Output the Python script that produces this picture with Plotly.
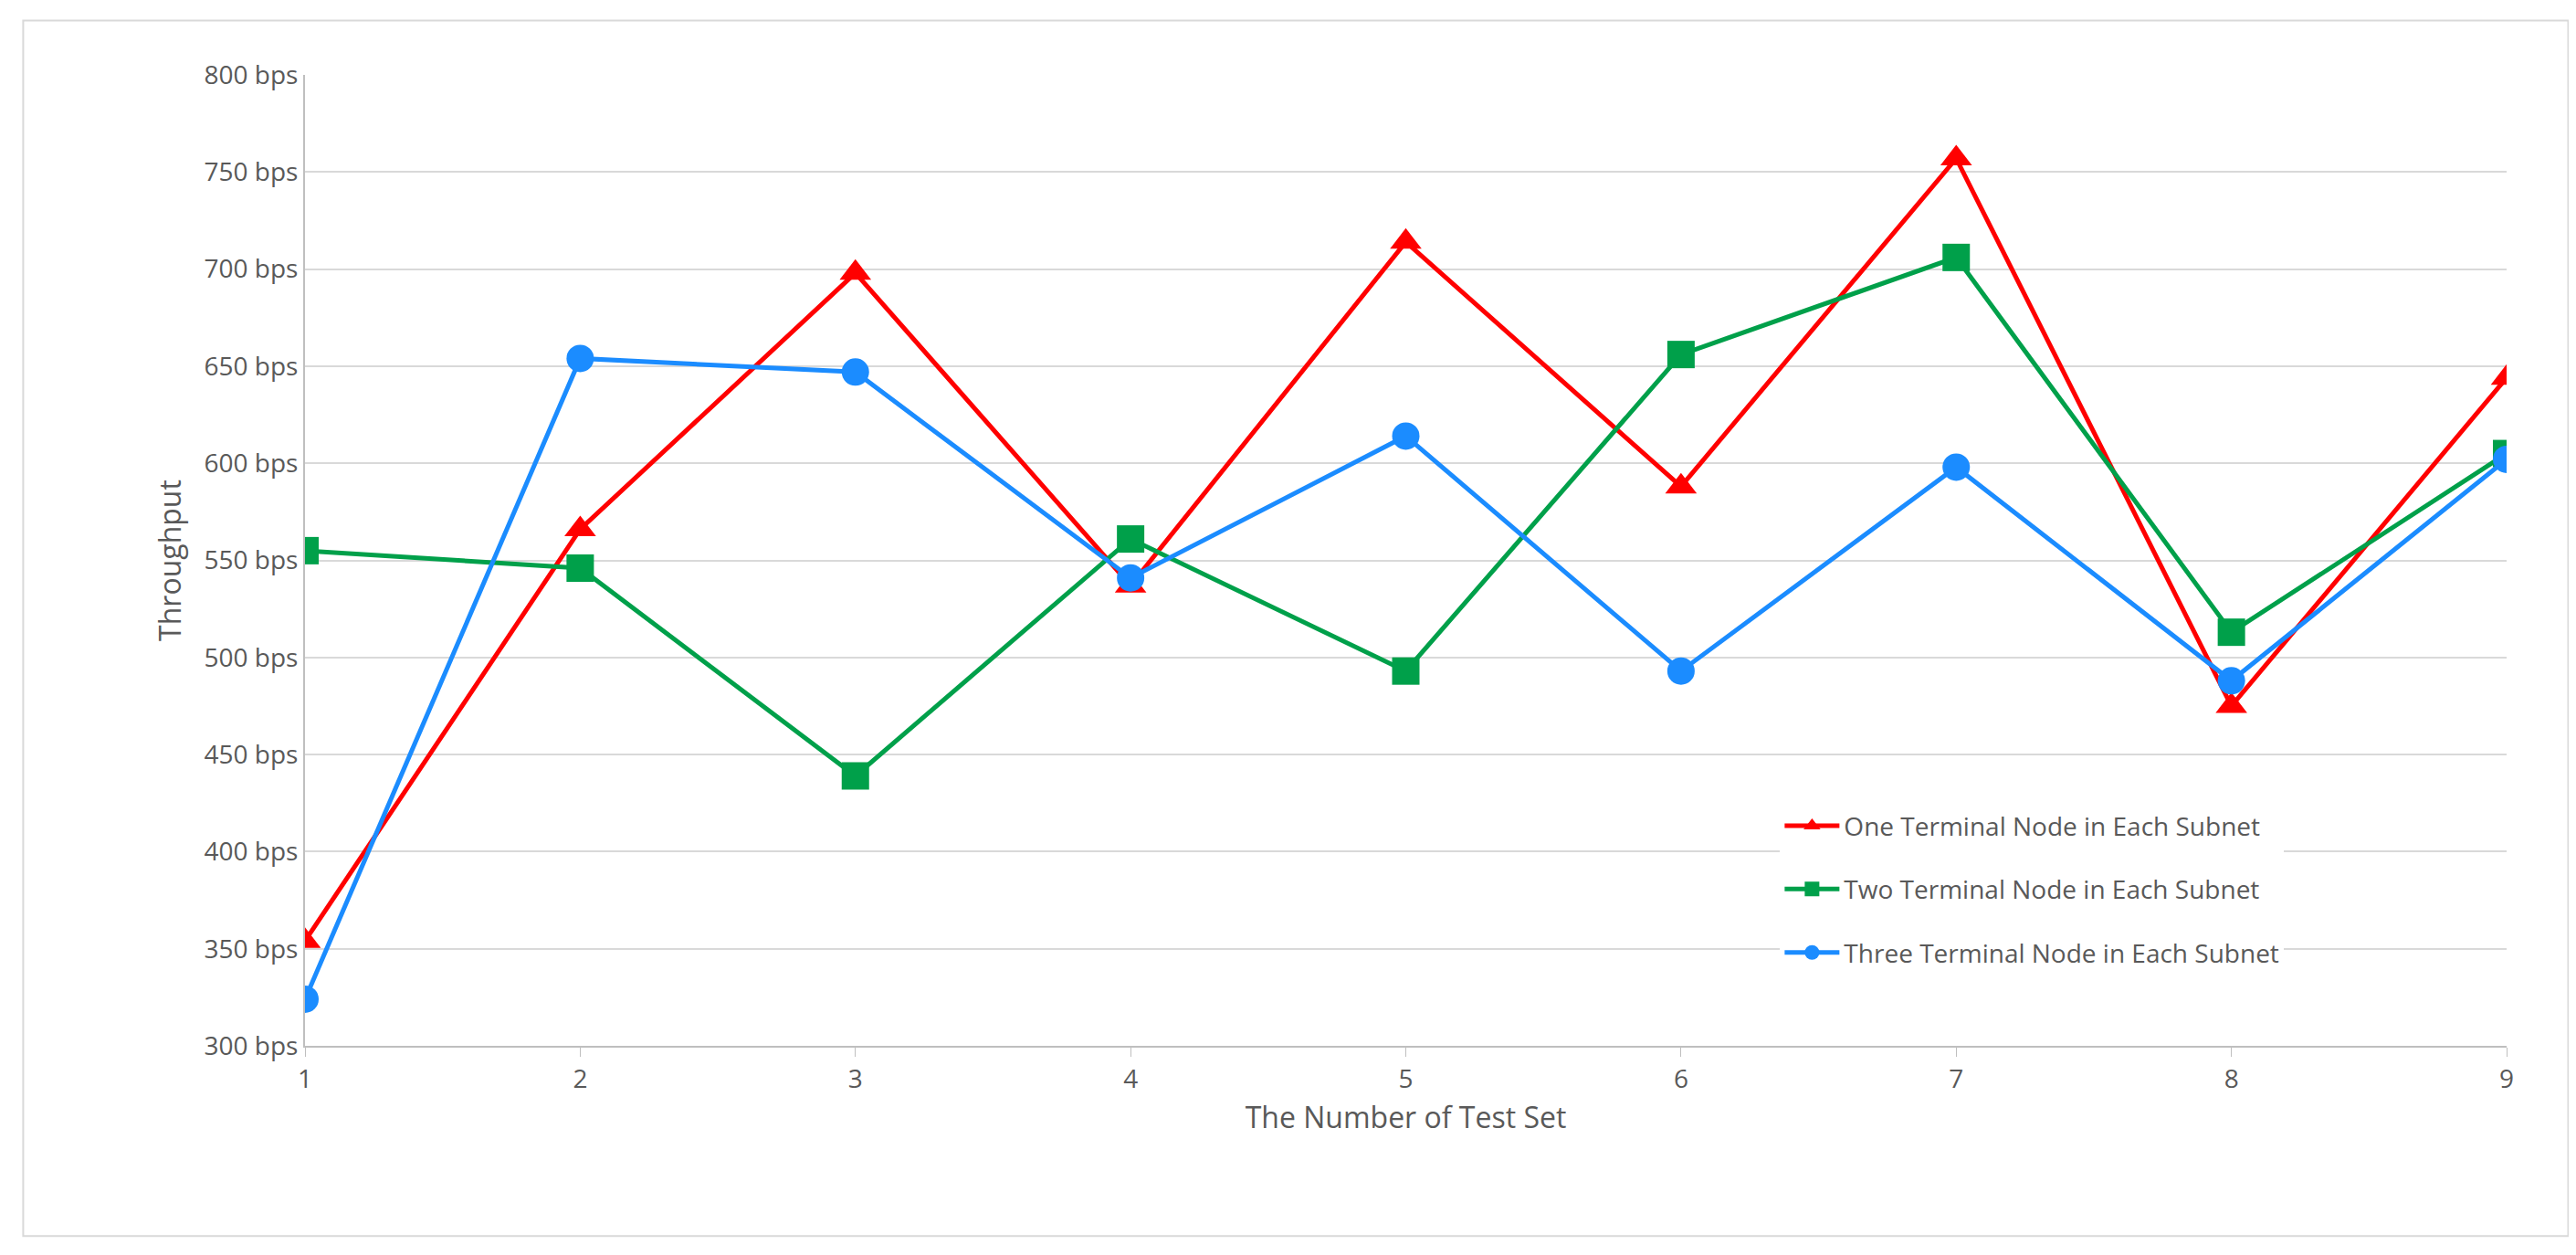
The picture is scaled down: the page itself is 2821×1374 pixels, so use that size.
import plotly.graph_objects as go

test_sets = [1, 2, 3, 4, 5, 6, 7, 8, 9]
one_node = [354, 566, 698, 537, 714, 588, 757, 475, 644]
two_node = [555, 546, 439, 561, 493, 656, 706, 513, 605]
three_node = [324, 654, 647, 541, 614, 493, 598, 488, 602]
y_ticks = [300, 350, 400, 450, 500, 550, 600, 650, 700, 750, 800]

fig = go.Figure()
for i, (name, vals, color, sym) in enumerate([
    ("One Terminal Node in Each Subnet", one_node, "#ff0000", "triangle-up"),
    ("Two Terminal Node in Each Subnet", two_node, "#00a04a", "square"),
    ("Three Terminal Node in Each Subnet", three_node, "#1b8cff", "circle"),
]):
    fig.add_trace(go.Scatter(
        x=test_sets, y=vals, name=name, mode="lines+markers",
        legendgroup=f"g{i}",
        line=dict(color=color, width=5),
        marker=dict(color=color, symbol=sym, size=30),
    ))

fig.update_layout(
    width=2821, height=1374,
    paper_bgcolor="white", plot_bgcolor="white",
    margin=dict(l=326, r=84, t=74, b=237),
    font=dict(family="Open Sans, Liberation Sans, sans-serif", size=28, color="#595959"),
    xaxis=dict(
        range=[1, 9], tickvals=test_sets, showgrid=False,
        showline=True, linecolor="#bfbfbf", linewidth=2,
        ticks="outside", tickcolor="#bfbfbf", ticklen=10,
        title=dict(text="The Number of Test Set", font=dict(size=32)),
    ),
    yaxis=dict(
        range=[300, 800], tickvals=y_ticks,
        ticktext=[f"{v} bps" for v in y_ticks],
        gridcolor="#d9d9d9", gridwidth=2, zeroline=False,
        showline=True, linecolor="#bfbfbf", linewidth=2,
        title=dict(text="Throughput", font=dict(size=32)),
    ),
    legend=dict(
        x=0.67, y=0.25, xanchor="left", yanchor="top",
        bgcolor="white", font=dict(size=28), itemwidth=60,
        traceorder="grouped", tracegroupgap=30,
    ),
    shapes=[dict(
        type="rect", xref="paper", yref="paper",
        x0=-0.128, x1=1.028, y0=-0.196, y1=1.056,
        line=dict(color="#d9d9d9", width=2),
    )],
)

fig.write_html("out.html")
